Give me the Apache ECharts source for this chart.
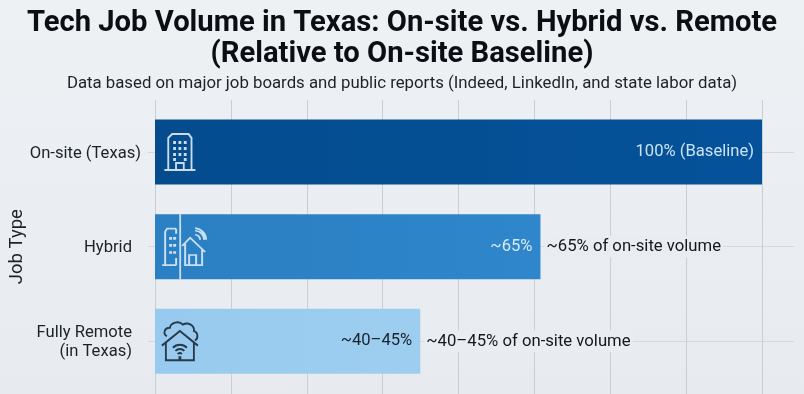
<!DOCTYPE html>
<html><head><meta charset="utf-8">
<style>html,body{margin:0;padding:0;background:#e9edf1}#c{width:804px;height:394px}</style>
<script src="https://cdn.jsdelivr.net/npm/echarts@6/dist/echarts.min.js"></script>
</head><body><div id="c"></div>
<script>
const categories = ['On-site (Texas)', 'Hybrid', 'Fully Remote\n(in Texas)'];
const values = [100, 63.5, 43.7];
const insideLabels = ['100% (Baseline)', '~65%', '~40–45%'];
const outsideLabels = ['', '~65% of on-site volume', '~40–45% of on-site volume'];
const xTicks = [0, 12.5, 25, 37.5, 50, 62.5, 75, 87.5, 100];

const barColors = [
  ['#044c8e', '#05529a'], ['#2b7fc3', '#2f86ca'], ['#97caee', '#9dcef0']
];
const insideColors = ['#c9e3f5', '#d6ebf8', '#17232f'];

const officeIcon = 'path://M0 37H32M4 37V5L8 1H25L28 5V37M12 37V30H20V37M10 9h1v1h-1zM15.500 9h1v1h-1zM21 9h1v1h-1zM10 15h1v1h-1zM15.500 15h1v1h-1zM21 15h1v1h-1zM10 21h1v1h-1zM15.500 21h1v1h-1zM21 21h1v1h-1zM10 26h1v1h-1zM21 26h1v1h-1z';
const hybridIcon = 'path://M0 37H14M3 37V4L5 1H14M14 1V6M14 30V37M8 10h1v1h-1zM12 10h1v1h-1zM8 17h1v1h-1zM12 17h1v1h-1zM8 24h1v1h-1zM12 24h1v1h-1zM20 18L28 10L43 24M23 16V37H40V21M27 37V27H34V37M33 7A5 5 0 0 1 38 12M33 3A9 9 0 0 1 42 12M33 0.500A12 12 0 0 1 44 12';
const remoteIcon = 'path://M0 24L18 10L36 24M4 21V38H32V21M5 15C1 13 2 7 8 7C9 2 17 0 21 4C26 1 33 5 32 10C37 12 36 18 33 19M11 26A10 10 0 0 1 25 26M13.500 29A6.500 6.500 0 0 1 22.500 29M16 32A3 3 0 0 1 20 32M17.500 35h1v1h-1z';
const iconSymbols = [officeIcon, hybridIcon, remoteIcon];

const FONT = 'Roboto, sans-serif';
const PLOT_L = 155, PLOT_W = 607;

const chart = echarts.init(document.getElementById('c'), null, {renderer: 'canvas'});
const gridLineColor = '#c8ced6';
const labelBg = '#e9edf1';

chart.setOption({
  animation: false,
  backgroundColor: {
    type: 'linear', x: 0, y: 0, x2: 0, y2: 1,
    colorStops: [{offset: 0, color: '#eef1f4'}, {offset: 1, color: '#e7ebf0'}]
  },
  title: [
    {text: 'Tech Job Volume in Texas: On-site vs. Hybrid vs. Remote', left: 'center', top: 4,
     textStyle: {fontFamily: 'Roboto, sans-serif', fontWeight: 700, fontSize: 29.2, color: '#0b0f14'}},
    {text: '(Relative to On-site Baseline)', left: 'center', top: 35,
     textStyle: {fontFamily: 'Roboto, sans-serif', fontWeight: 700, fontSize: 29.2, color: '#0b0f14'}},
    {text: 'Data based on major job boards and public reports (Indeed, LinkedIn, and state labor data)', left: 'center', top: 70,
     textStyle: {fontFamily: FONT, fontWeight: 400, fontSize: 16.8, color: '#1b2229'}}
  ],
  grid: [
    {left: PLOT_L, width: PLOT_W, top: 104.67, height: 284, outerBoundsMode: 'none'},
    {left: PLOT_L, width: PLOT_W, top: 100, bottom: 0, outerBoundsMode: 'none'},
    {left: 148, width: 646, top: 104.67, height: 284, outerBoundsMode: 'none'}
  ],
  xAxis: [
    {gridIndex: 0, type: 'value', min: 0, max: 100, show: false, splitLine: {show: false}},
    {gridIndex: 1, type: 'value', min: 0, max: 100, interval: xTicks[1],
     axisLine: {show: false}, axisTick: {show: false}, axisLabel: {show: false},
     splitLine: {show: true, lineStyle: {color: gridLineColor, width: 1}}},
    {gridIndex: 2, type: 'value', show: false, splitLine: {show: false}}
  ],
  yAxis: [
    {gridIndex: 0, type: 'category', inverse: true, data: categories,
     name: 'Job Type', nameLocation: 'middle', nameGap: 128, nameRotate: 90, nameMoveOverlap: false,
     nameTextStyle: {fontFamily: FONT, fontSize: 18.5, color: '#1b2229'},
     axisLine: {show: false}, axisTick: {show: false},
     axisLabel: {
       margin: 14, interval: 0, align: 'right',
       formatter: (v, i) => i === 0 ? '{a|' + v + '}' : v.split('\n').map(s => '{b|' + s + '}').join('\n'),
       rich: {
         a: {fontFamily: FONT, fontSize: 16.6, color: '#1b2229', lineHeight: 19, padding: [3, 0, 0, 0]},
         b: {fontFamily: FONT, fontSize: 16.6, color: '#1b2229', lineHeight: 19, padding: [3, 9, 0, 0]}
       }
     }},
    {gridIndex: 1, type: 'category', show: false, data: categories},
    {gridIndex: 2, type: 'category', inverse: true, data: categories,
     axisLine: {show: false}, axisTick: {show: false}, axisLabel: {show: false},
     splitLine: {show: true, alignWithLabel: true, lineStyle: {color: '#d3d8de', width: 1}}}
  ],
  series: [
    {type: 'bar', xAxisIndex: 0, yAxisIndex: 0, barWidth: 65, barGap: '-100%', z: 3,
     data: values.map((v, i) => ({
       value: v,
       itemStyle: {color: {type: 'linear', x: 0, y: 0, x2: 1, y2: 0,
         colorStops: [{offset: 0, color: barColors[i][0]}, {offset: 1, color: barColors[i][1]}]}},
       label: {show: true, position: 'insideRight', distance: 8, formatter: insideLabels[i],
               fontFamily: FONT, fontSize: 16.6, color: insideColors[i], padding: [5, 0, 0, 0]}
     }))},
    {type: 'bar', xAxisIndex: 0, yAxisIndex: 0, barWidth: 65, barGap: '-100%', z: 4, silent: true,
     itemStyle: {color: 'rgba(0,0,0,0)'},
     data: values.map((v, i) => ({
       value: v,
       label: {show: !!outsideLabels[i], position: 'right', distance: 4, formatter: outsideLabels[i],
               fontFamily: FONT, fontSize: 16.7, color: '#12181f',
               backgroundColor: labelBg, padding: [5, 2, 0, 2]}
     }))},
    {type: 'scatter', xAxisIndex: 0, yAxisIndex: 0, z: 6, silent: true,
     data: [
       {value: [4.1, 0], symbol: iconSymbols[0], symbolSize: [31, 36],
        itemStyle: {color: 'rgba(0,0,0,0)', borderColor: '#ffffff', borderWidth: 2}},
       {value: [4.15, 1], symbol: 'rect', symbolSize: [1.8, 65],
        itemStyle: {color: '#f2f8fc'}},
       {value: [4.8, 1], symbol: iconSymbols[1], symbolSize: [44, 37],
        itemStyle: {color: 'rgba(0,0,0,0)', borderColor: '#f2f8fc', borderWidth: 1.8}},
       {value: [4.1, 2], symbol: iconSymbols[2], symbolSize: [36, 38],
        itemStyle: {color: 'rgba(0,0,0,0)', borderColor: '#0a1622', borderWidth: 1.9}}
     ]}
  ]
});
</script></body></html>
